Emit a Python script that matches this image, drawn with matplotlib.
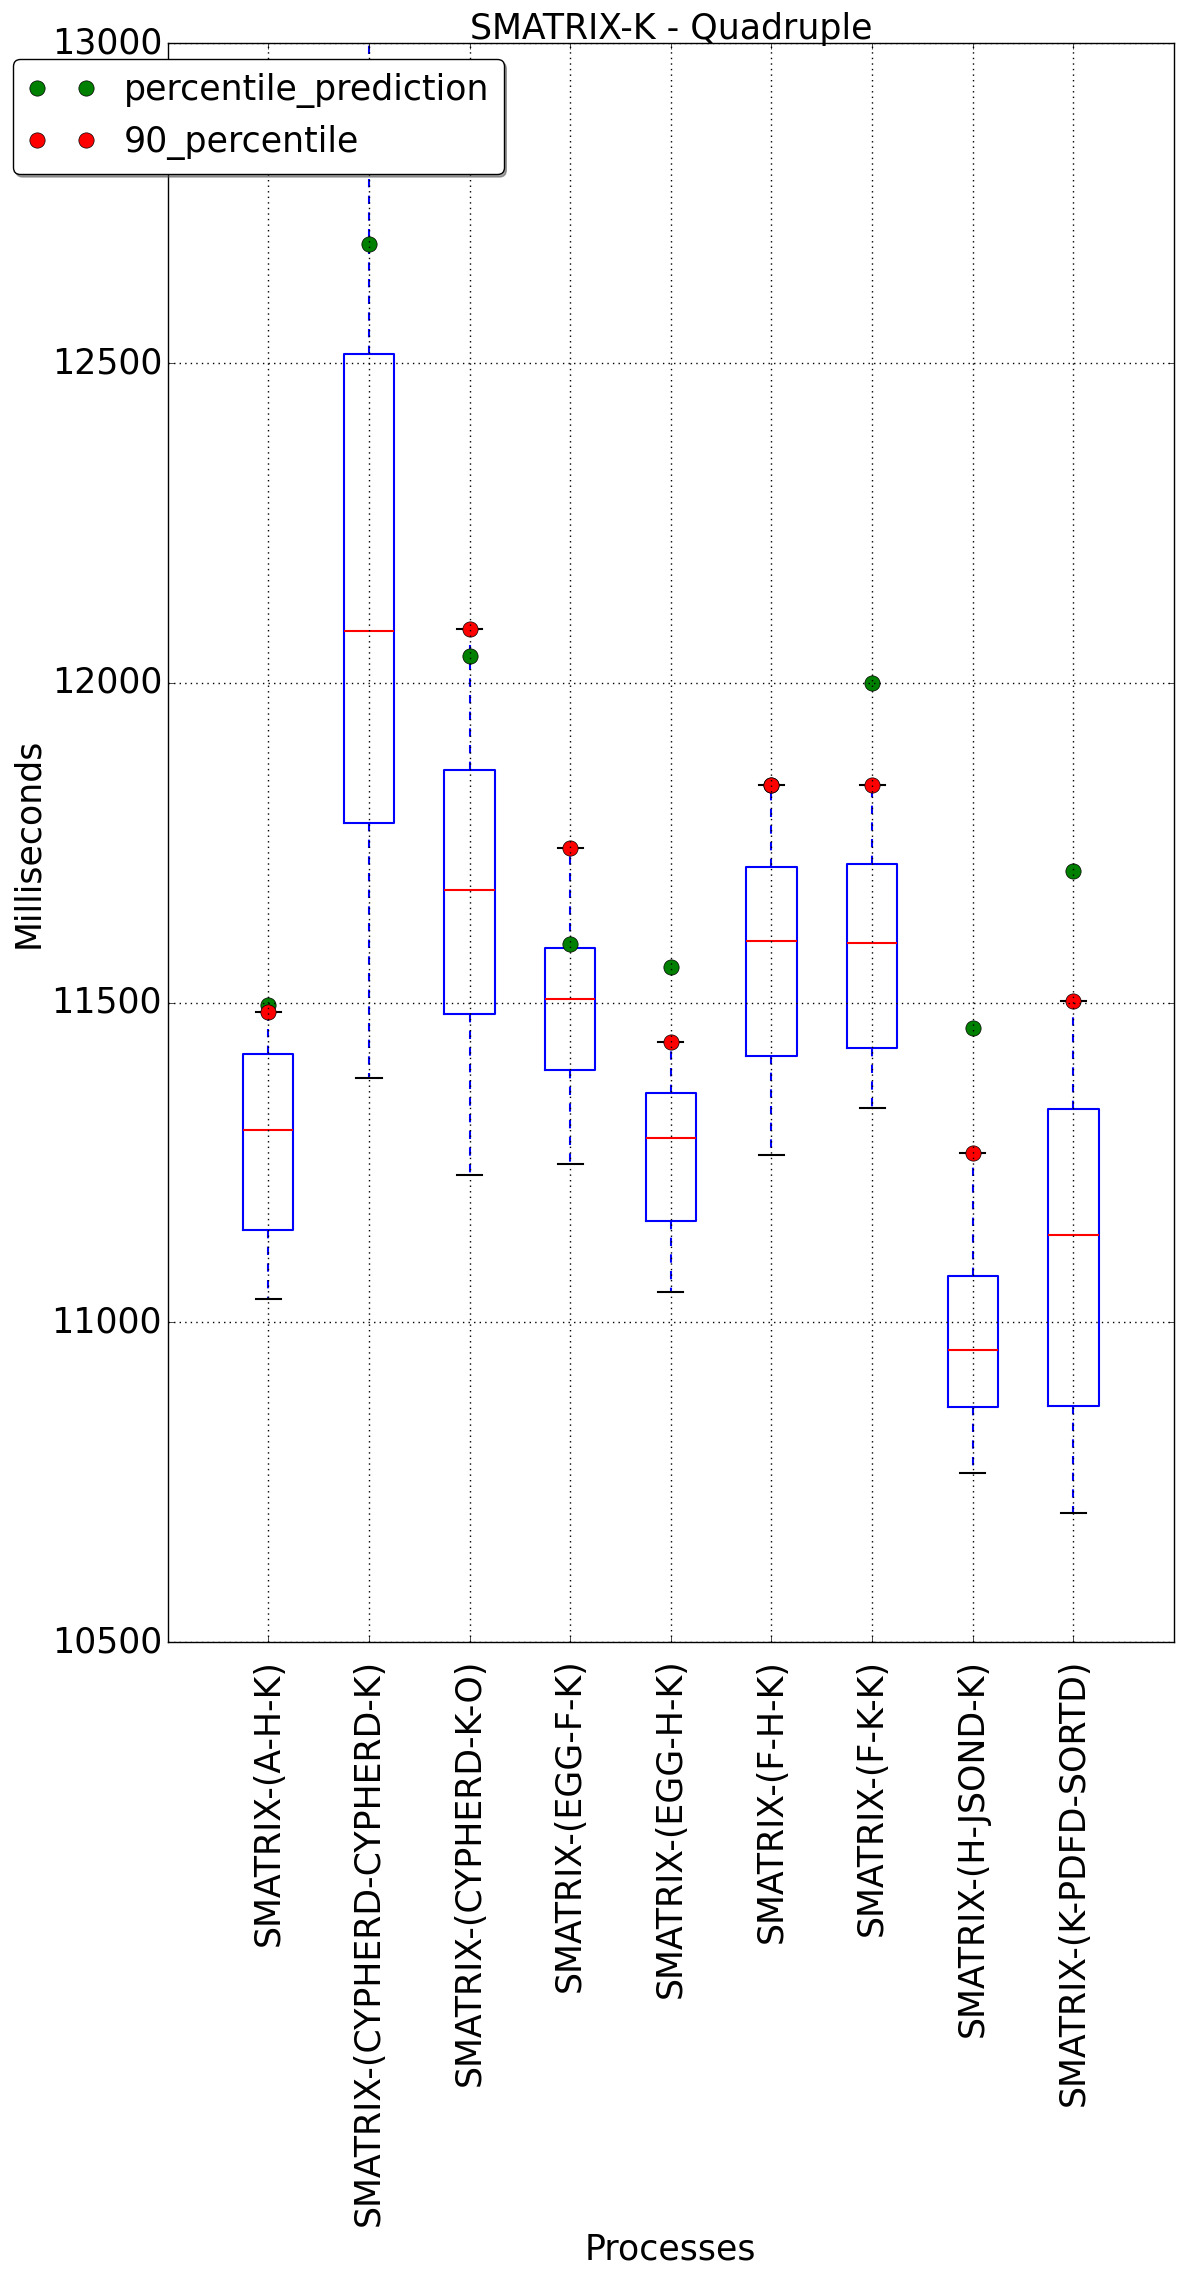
import numpy as np
import matplotlib
matplotlib.use('Agg')
import matplotlib.pyplot as plt

# process names (x tick labels)
processes = ['SMATRIX-(A-H-K)', 'SMATRIX-(CYPHERD-CYPHERD-K)', 'SMATRIX-(CYPHERD-K-O)',
             'SMATRIX-(EGG-F-K)', 'SMATRIX-(EGG-H-K)', 'SMATRIX-(F-H-K)',
             'SMATRIX-(F-K-K)', 'SMATRIX-(H-JSOND-K)', 'SMATRIX-(K-PDFD-SORTD)']

# box statistics (ms)
whis_lo = [11036, 11382, 11231, 11247, 11047, 11262, 11335, 10764, 10701]
q1 = [11145, 11781, 11482, 11394, 11158, 11417, 11429, 10867, 10869]
medians = [11301, 12081, 11676, 11506, 11288, 11596, 11593, 10957, 11137]
q3 = [11419, 12514, 11864, 11586, 11358, 11712, 11716, 11072, 11334]
whis_hi = [11485, 13300, 12084, 11742, 11439, 11840, 11840, 11264, 11503]

percentile_prediction = [11496, 12687, 12042, 11592, 11556, 11840, 12000, 11461, 11706]
percentile_90 = [11485, 13300, 12084, 11742, 11439, 11840, 11840, 11264, 11503]

plt.style.use('classic')
plt.rcParams['font.family'] = 'DejaVu Sans'

fig = plt.figure(figsize=(11.84, 22.73), dpi=100, facecolor='white')
ax = fig.add_axes([0.1416, 0.2776, 0.85, 0.7033])

stats = []
for i in range(len(processes)):
    stats.append({'whislo': whis_lo[i], 'q1': q1[i], 'med': medians[i],
                  'q3': q3[i], 'whishi': whis_hi[i], 'fliers': []})

pos = np.arange(1, len(processes) + 1)
ax.bxp(stats, positions=pos, widths=0.5, showfliers=False,
       boxprops=dict(color='b', linewidth=1.5),
       whiskerprops=dict(color='b', linestyle='--', linewidth=1.5),
       capprops=dict(color='k', linewidth=1.5),
       medianprops=dict(color='r', linewidth=1.5))

ax.plot(pos, percentile_prediction, 'o', color='g', markersize=11,
        markeredgecolor='k', markeredgewidth=0.5, label='percentile_prediction')
ax.plot(pos, percentile_90, 'o', color='r', markersize=11,
        markeredgecolor='k', markeredgewidth=0.5, label='90_percentile')

ax.set_xlim(0, 10)
ax.set_ylim(10500, 13000)
ax.set_yticks(np.arange(10500, 13001, 500))
ax.set_xticks(pos)
ax.set_xticklabels(processes, rotation=90, fontsize=25)
ax.tick_params(axis='y', labelsize=25)
ax.tick_params(axis='x', pad=12)
ax.grid(True, color='k', linestyle=':', linewidth=1.0)

ax.set_title('SMATRIX-K - Quadruple', fontsize=25, pad=3)
ax.set_xlabel('Processes', fontsize=25)
ax.set_ylabel('Milliseconds', fontsize=25)

ax.legend(loc='upper left', bbox_to_anchor=(0.011, 0.974),
          bbox_transform=fig.transFigure, numpoints=2, fancybox=True,
          shadow=True, fontsize=25, borderaxespad=0)

fig.savefig('out.png', dpi=100, facecolor='white')
